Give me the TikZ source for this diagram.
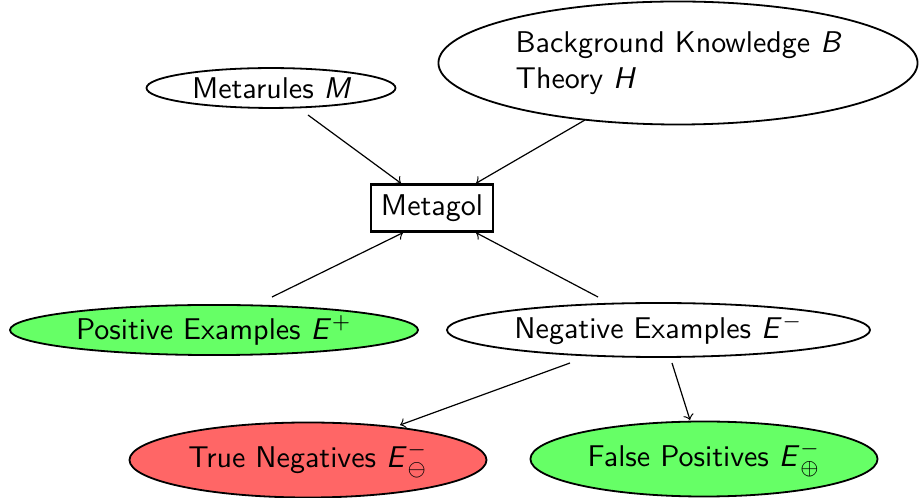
\documentclass[tikz,border=0pt]{standalone}
\usepackage{fontspec}
\usetikzlibrary{shapes.geometric,calc}
\newcommand{\sv}[1]{\mbox{\sffamily\itshape #1}}
\newcommand{\Ev}{\sv{E}\mkern2mu}
\definecolor{posgreen}{RGB}{102,255,102}
\definecolor{negred}{RGB}{255,102,102}
\begin{document}
\begin{tikzpicture}[x=0.3333pt,y=-0.3333pt,font=\sffamily,
  oval/.style={ellipse,draw,semithick,inner sep=0pt},
  arr/.style={->,thin}]
\useasboundingbox (0,0) rectangle (920,498);
% inputs and the learner
\node[oval,minimum width=83pt,minimum height=13.3pt] (meta) at (271,88) {Metarules $\sv{M}$};
\node[oval,minimum width=159.7pt,minimum height=41pt,align=left] (bk) at (678,63)
  {Background Knowledge $\sv{B}$\\Theory $\sv{H}$};
\node[draw,thick,minimum width=39pt,minimum height=14.7pt] (metagol) at (432,208) {Metagol};
% examples
\node[oval,fill=posgreen,minimum width=136pt,minimum height=16.7pt] (pos) at (214,330)
  {Positive Examples $\Ev^{+}$};
\node[oval,minimum width=141pt,minimum height=18pt] (neg) at (658.5,330)
  {Negative Examples $\Ev^{-}$};
\node[oval,fill=negred,minimum width=119pt,minimum height=25pt] (tn) at (308,460)
  {True Negatives $\Ev^{-}_{\ominus}$};
\node[oval,fill=posgreen,minimum width=115.7pt,minimum height=25pt] (fp) at (704,459)
  {False Positives $\Ev^{-}_{\oplus}$};
% connectors
\draw[arr] ($(meta)+(37,27)$) -- ($(metagol.north)+(-31,0)$);
\draw[arr] ($(bk)+(-93,57)$) -- ($(metagol.north)+(44,0)$);
\draw[arr] ($(pos)+(58,-33)$) -- ($(metagol.south)+(-29,0)$);
\draw[arr] ($(neg)+(-60.5,-33)$) -- ($(metagol.south)+(44,0)$);
\draw[arr] ($(neg)+(-88.5,33)$) -- ($(tn)+(92,-35)$);
\draw[arr] ($(neg)+(13.5,33)$) -- ($(fp)+(-14,-39)$);
\end{tikzpicture}
\end{document}
